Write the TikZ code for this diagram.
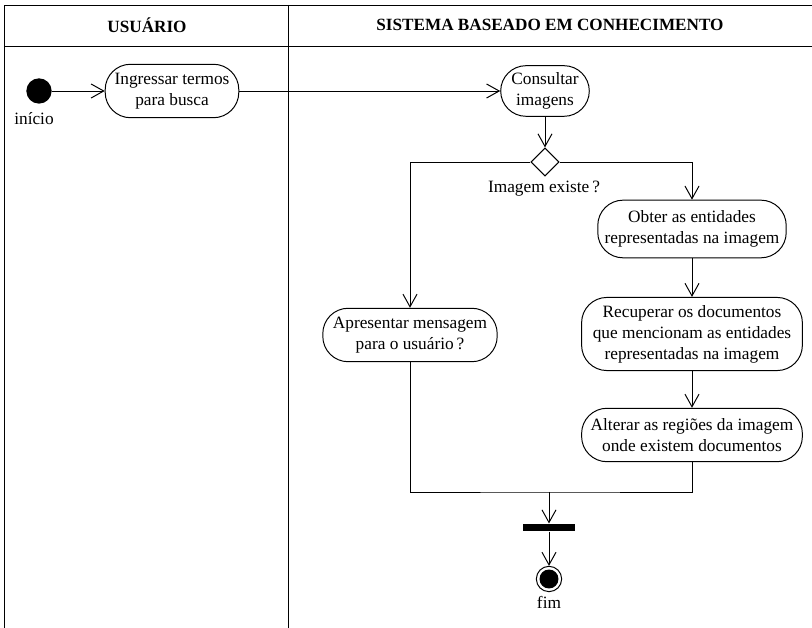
\documentclass[tikz,border=0pt]{standalone}
\usepackage{fontspec}
\setmainfont{Liberation Serif}
\usetikzlibrary{shapes.geometric,arrows.meta}

\begin{document}
\begin{tikzpicture}[x=0.025cm,y=-0.025cm,line width=0.7pt,
    font=\fontsize{12.3}{15}\selectfont,
    flow/.style={-{Straight Barb[length=9pt,width=10pt]}}]

      \useasboundingbox (0,0) rectangle (812,628);

      % raias
      \draw (4,628) -- (4,5) -- (812,5);
      \draw (4,46) -- (812,46);
      \draw (288,5) -- (288,628);

      \begin{scope}[every node/.style={font=\fontsize{12.2}{15}\selectfont\bfseries}]
        \node (usu) at (147,25) {USUÁRIO};
        \node (sis) at (550,25) {SISTEMA BASEADO EM CONHECIMENTO};
      \end{scope}

      \begin{scope}[every node/.style={draw,rectangle,rounded corners=18pt,align=center,inner sep=0pt}]
        \node[minimum width=95pt,minimum height=38pt]  (ing) at (172,91)  {Ingressar termos\\para busca};
        \node[minimum width=63pt,minimum height=36pt]  (con) at (545,91)  {Consultar\\imagens};
        \node[minimum width=134pt,minimum height=41pt] (obt) at (692,229) {Obter as entidades\\representadas na imagem};
        \node[minimum width=157pt,minimum height=52pt] (rec) at (692,334) {Recuperar os documentos\\que mencionam as entidades\\representadas na imagem};
        \node[minimum width=157pt,minimum height=38pt] (alt) at (692,435) {Alterar as regiões da imagem\\onde existem documentos};
        \node[minimum width=124pt,minimum height=38pt] (apr) at (410,335) {Apresentar mensagem\\para o usuário\,?};
      \end{scope}

      \node[circle,fill,minimum size=18pt,inner sep=0pt] (ini) at (39,91) {};
      \node (iniLabel) at (34,119) {início};

      \node[diamond,draw,minimum width=20pt,minimum height=20pt,inner sep=0pt] (dec) at (545,162) {};
      \node (decLabel) at (544,189) {Imagem existe\,?};

      \node[rectangle,fill,minimum width=37pt,minimum height=5pt,inner sep=0pt] (bar) at (549,527.5) {};

      \node[circle,draw,minimum size=18pt,inner sep=0pt] (fim) at (549,579) {};
      \node[circle,fill,minimum size=13.5pt,inner sep=0pt] (fimDot) at (fim) {};
      \node (fimLabel) at (549,602) {fim};

      \coordinate (join) at (549,492);

      \draw[flow] (ini) -- (ing);
      \draw[flow] (ing) -- (con);
      \draw[flow] (con) -- (dec);
      \draw[flow] (dec.west) -| (apr.north);
      \draw[flow] (dec.east) -| (obt.north);
      \draw[flow] (obt) -- (rec);
      \draw[flow] (rec) -- (alt);
      \draw (apr.south) |- (join) -| (alt.south);
      \draw[flow] (join) -- (bar);
      \draw[flow] (bar) -- (fim);

    \end{tikzpicture}
\end{document}
